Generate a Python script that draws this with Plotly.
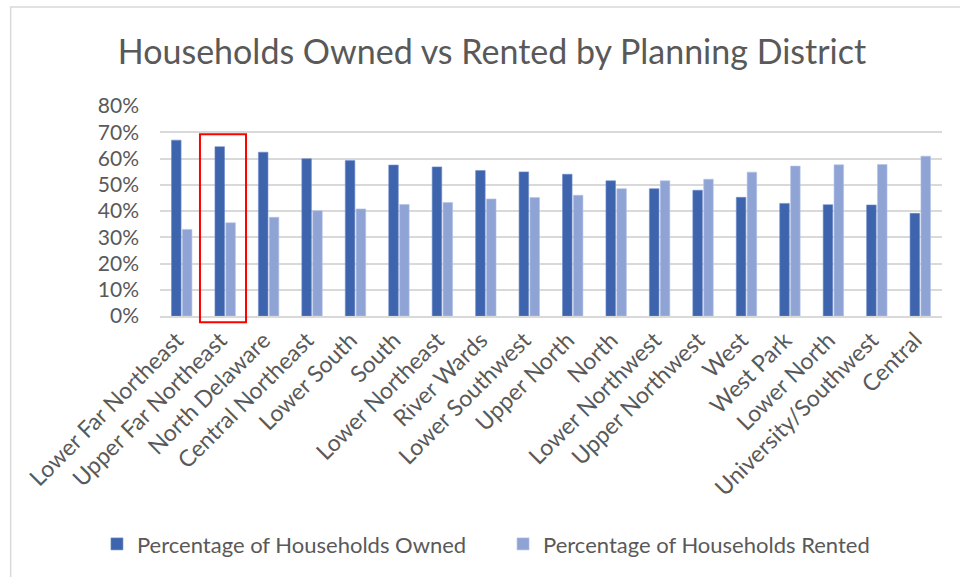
import plotly.graph_objects as go

# Planning districts, sorted by share of owner-occupied households
districts = [
    "Lower Far Northeast", "Upper Far Northeast", "North Delaware", "Central Northeast",
    "Lower South", "South", "Lower Northeast", "River Wards", "Lower Southwest",
    "Upper North", "North", "Lower Northwest", "Upper Northwest", "West",
    "West Park", "Lower North", "University/Southwest", "Central",
]
owned_pct = [67.0, 64.5, 62.4, 59.9, 59.2, 57.5, 56.8, 55.4, 54.9,
             54.0, 51.5, 48.5, 47.9, 45.2, 42.9, 42.4, 42.3, 39.1]
rented_pct = [33.0, 35.5, 37.6, 40.1, 40.8, 42.5, 43.2, 44.6, 45.1,
              46.0, 48.5, 51.5, 52.1, 54.8, 57.1, 57.6, 57.7, 60.9]

FONT = "Lato, 'Open Sans', sans-serif"
GREY_TEXT = "#595959"
GRID = "#d9d9d9"

fig = go.Figure()
fig.add_trace(go.Bar(
    x=districts, y=owned_pct, name="Percentage of Households Owned",
    marker=dict(color="#3d64ad", line=dict(color="#6f8ccb", width=0.6)),
    legend="legend", showlegend=True,
))
fig.add_trace(go.Bar(
    x=districts, y=rented_pct, name="Percentage of Households Rented",
    marker=dict(color="#8fa4d5", line=dict(color="#b4c3e6", width=0.6)),
    legend="legend2", showlegend=True,
))

# Highlight box around the Upper Far Northeast district
fig.add_shape(
    type="rect", xref="x", yref="paper",
    x0=0.42, x1=1.48, y0=-0.03, y1=0.865,
    line=dict(color="#ff0000", width=2), fillcolor="rgba(0,0,0,0)",
)

# Outer chart frame
fig.add_shape(
    type="rect", xref="paper", yref="paper",
    x0=-0.191, x1=1.2, y0=-1.5, y1=1.471,
    line=dict(color=GRID, width=1.5), fillcolor="rgba(0,0,0,0)", layer="below",
)

legend_style = dict(
    orientation="h", xref="container", xanchor="left",
    yref="container", y=0.057, yanchor="middle",
    font=dict(family=FONT, size=22, color=GREY_TEXT),
    itemwidth=30, bgcolor="rgba(0,0,0,0)", visible=True,
)

fig.update_layout(
    width=960, height=577,
    showlegend=True,
    margin=dict(l=160, r=18, t=106, b=261, autoexpand=False),
    paper_bgcolor="white", plot_bgcolor="white",
    barmode="group", bargap=0.5, bargroupgap=0.12,
    font=dict(family=FONT, color=GREY_TEXT),
    title=dict(
        text="Households Owned vs Rented by Planning District",
        font=dict(family=FONT, size=34, color=GREY_TEXT),
        x=0.5125, xref="container", xanchor="center", y=0.91, yanchor="middle",
    ),
    legend=dict(x=0.101, **legend_style),
    legend2=dict(x=0.524, **legend_style),
    xaxis=dict(
        tickmode="array", tickvals=districts, ticktext=districts,
        tickangle=-45, tickfont=dict(family=FONT, size=23, color=GREY_TEXT),
        ticklabelshift=-5,
        showline=True, linecolor=GRID, linewidth=1.5, ticks="", showgrid=False,
    ),
    yaxis=dict(
        range=[0, 80], dtick=10, ticksuffix="%",
        tickfont=dict(family=FONT, size=21, color=GREY_TEXT),
        showgrid=True, gridcolor=GRID, gridwidth=1.5, zeroline=False,
        showline=False, ticks="", ticklabelstandoff=20,
    ),
)

fig.write_html("out.html")
